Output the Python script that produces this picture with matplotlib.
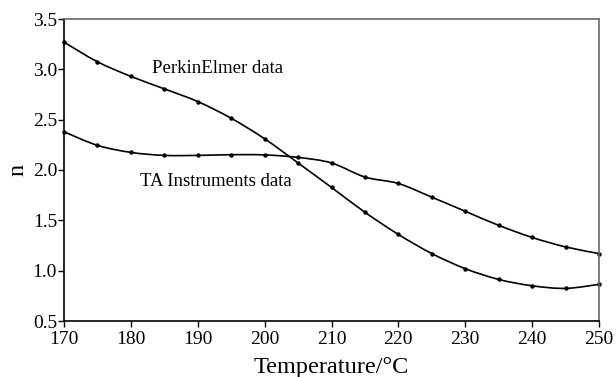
import numpy as np
import matplotlib
matplotlib.use('Agg')
import matplotlib.pyplot as plt
from matplotlib.path import Path
from matplotlib.patches import PathPatch

plt.rcParams['font.family'] = ['Liberation Serif', 'DejaVu Serif']

temps = [170, 175, 180, 185, 190, 195, 200, 205, 210, 215, 220, 225, 230, 235, 240, 245, 250]
perkin = [3.27, 3.075, 2.93, 2.806, 2.68, 2.514, 2.31, 2.07, 1.827, 1.58, 1.36, 1.17,
          1.02, 0.913, 0.85, 0.824, 0.864]
ta_inst = [2.38, 2.245, 2.175, 2.145, 2.145, 2.152, 2.15, 2.125, 2.07, 1.93, 1.866, 1.73,
           1.59, 1.45, 1.33, 1.236, 1.17]


def smooth_path(xs, ys):
    # Catmull-Rom style bezier segments (like a spreadsheet "smoothed line")
    xs = np.asarray(xs, float)
    ys = np.asarray(ys, float)
    n = len(xs)
    verts = [(xs[0], ys[0])]
    codes = [Path.MOVETO]
    for i in range(n - 1):
        p0 = (xs[max(i - 1, 0)], ys[max(i - 1, 0)])
        p1 = (xs[i], ys[i])
        p2 = (xs[i + 1], ys[i + 1])
        p3 = (xs[min(i + 2, n - 1)], ys[min(i + 2, n - 1)])
        c1 = (p1[0] + (p2[0] - p0[0]) / 6, p1[1] + (p2[1] - p0[1]) / 6)
        c2 = (p2[0] - (p3[0] - p1[0]) / 6, p2[1] - (p3[1] - p1[1]) / 6)
        verts += [c1, c2, p2]
        codes += [Path.CURVE4] * 3
    return Path(verts, codes)


fig = plt.figure(figsize=(6.16, 3.77), dpi=100)
ax = fig.add_axes([64 / 616, 56 / 377, 535 / 616, 302 / 377])

for ys in (perkin, ta_inst):
    ax.add_patch(PathPatch(smooth_path(temps, ys), facecolor='none',
                           edgecolor='black', lw=1.2, clip_on=False))
    ax.plot(temps, ys, ls='none', marker='o', ms=2.2, color='black', clip_on=False)

ax.set_xlim(170, 250)
ax.set_ylim(0.5, 3.5)
ax.set_xticks(np.arange(170, 251, 10))
ax.set_yticks(np.arange(0.5, 3.51, 0.5))
ax.set_yticklabels([f'{v:.1f}' for v in np.arange(0.5, 3.51, 0.5)])
ax.tick_params(direction='out', length=4, width=1, labelsize=14, pad=1)
ax.tick_params(axis='x', pad=3)

for side in ('left', 'bottom'):
    ax.spines[side].set_color('black')
    ax.spines[side].set_linewidth(1.2)
for side in ('top', 'right'):
    ax.spines[side].set_color('#666666')
    ax.spines[side].set_linewidth(1.2)

ax.set_xlabel('Temperature/°C', fontsize=17.5, labelpad=7)
ax.set_ylabel('n', fontsize=17.5, labelpad=3)

ax.text(183.2, 3.01, 'PerkinElmer data', fontsize=13.5, va='center')
ax.text(181.4, 1.89, 'TA Instruments data', fontsize=13.5, va='center')

fig.savefig('out.png', dpi=100)
